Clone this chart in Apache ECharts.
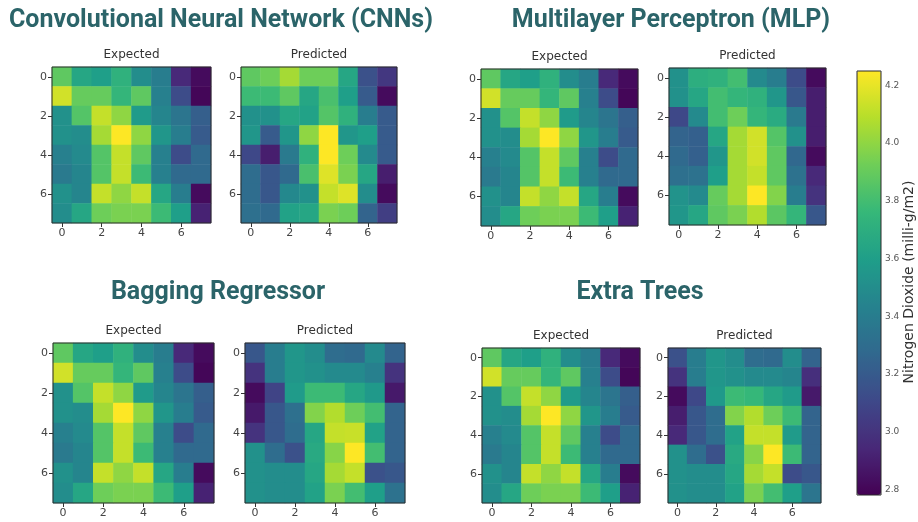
<!DOCTYPE html>
<html>
<head>
<meta charset="utf-8">
<script src="https://cdn.jsdelivr.net/npm/echarts@6/dist/echarts.min.js"></script>
<style>
  html, body { margin: 0; padding: 0; background: #ffffff; }
  #chart { width: 918px; height: 522px; }
</style>
</head>
<body>
<div id="chart"></div>
<script>
// Grid cell indices along each axis
const cells = ['0', '1', '2', '3', '4', '5', '6', '7'];

// Colour bar range and tick values (NO2, milli-g/m2)
const scaleMin = 2.78;
const scaleMax = 4.25;
const colorbarTicks = [2.8, 3.0, 3.2, 3.4, 3.6, 3.8, 4.0, 4.2];

// Model names and panel captions
const modelTitles = ['Convolutional Neural Network (CNNs)', 'Multilayer Perceptron (MLP)', 'Bagging Regressor', 'Extra Trees'];
const panelCaptions = ['Expected', 'Predicted'];
const colorbarLabel = 'Nitrogen Dioxide (milli-g/m2)';

// Observed NO2 grid (row-major, row 0 at top)
const expected = [
  [3.88, 3.65, 3.60, 3.72, 3.50, 3.40, 2.95, 2.82],
  [4.15, 3.90, 3.90, 3.75, 3.88, 3.42, 3.12, 2.80],
  [3.52, 3.85, 4.12, 4.00, 3.58, 3.45, 3.35, 3.22],
  [3.52, 3.50, 4.05, 4.25, 4.00, 3.55, 3.40, 3.20],
  [3.42, 3.48, 3.85, 4.12, 3.88, 3.42, 3.12, 3.28],
  [3.38, 3.45, 3.85, 4.12, 3.78, 3.42, 3.28, 3.28],
  [3.52, 3.45, 4.12, 4.00, 4.12, 3.65, 3.40, 2.82],
  [3.50, 3.65, 3.92, 3.95, 3.95, 3.78, 3.60, 2.92]
];

const predictedCNN = [
  [3.88, 3.92, 4.05, 3.92, 3.92, 3.65, 3.15, 3.02],
  [3.78, 3.78, 3.88, 3.65, 3.82, 3.60, 3.20, 2.82],
  [3.52, 3.52, 3.65, 3.62, 3.85, 3.72, 3.40, 3.20],
  [3.55, 3.20, 3.55, 4.00, 4.25, 3.55, 3.60, 3.20],
  [3.10, 2.90, 3.38, 3.72, 4.25, 3.92, 3.48, 3.20],
  [3.30, 3.18, 3.28, 3.82, 4.18, 3.95, 3.65, 2.90],
  [3.30, 3.18, 3.47, 3.52, 4.12, 4.18, 3.50, 2.82],
  [3.32, 3.28, 3.62, 3.65, 3.95, 3.92, 3.25, 3.05]
];

const predictedMLP = [
  [3.52, 3.70, 3.72, 3.80, 3.48, 3.40, 3.12, 2.82],
  [3.52, 3.65, 3.80, 3.75, 3.72, 3.55, 3.18, 2.90],
  [3.10, 3.48, 3.80, 3.92, 3.75, 3.68, 3.38, 2.90],
  [3.25, 3.23, 3.65, 4.05, 4.15, 3.85, 3.52, 2.90],
  [3.28, 3.23, 3.55, 4.05, 4.15, 3.88, 3.27, 2.82],
  [3.32, 3.33, 3.60, 4.05, 4.12, 3.88, 3.33, 2.95],
  [3.53, 3.48, 3.90, 4.05, 4.25, 3.97, 3.40, 3.00],
  [3.55, 3.65, 3.88, 3.95, 4.08, 3.87, 3.75, 3.18]
];

const predictedBagging = [
  [3.18, 3.40, 3.55, 3.50, 3.30, 3.28, 3.48, 3.25],
  [3.00, 3.40, 3.55, 3.52, 3.48, 3.48, 3.42, 3.00],
  [2.82, 3.08, 3.58, 3.78, 3.78, 3.65, 3.57, 2.88],
  [2.88, 3.18, 3.32, 3.97, 4.08, 3.92, 3.80, 3.25],
  [3.00, 3.18, 3.30, 3.65, 4.12, 4.13, 3.62, 3.25],
  [3.52, 3.30, 3.15, 3.67, 3.98, 4.25, 3.80, 3.25],
  [3.52, 3.50, 3.50, 3.65, 4.05, 4.12, 3.15, 3.18],
  [3.52, 3.50, 3.50, 3.62, 3.95, 3.80, 3.60, 3.33]
];

const predictedExtraTrees = [
  [3.15, 3.40, 3.55, 3.50, 3.30, 3.28, 3.50, 3.25],
  [3.00, 3.40, 3.55, 3.52, 3.48, 3.48, 3.45, 2.98],
  [2.82, 3.10, 3.57, 3.78, 3.76, 3.65, 3.58, 2.88],
  [2.90, 3.18, 3.30, 3.97, 4.08, 3.92, 3.78, 3.25],
  [2.95, 3.18, 3.30, 3.62, 4.12, 4.12, 3.58, 3.25],
  [3.52, 3.30, 3.15, 3.67, 3.98, 4.25, 3.78, 3.25],
  [3.52, 3.50, 3.50, 3.65, 4.05, 4.12, 3.12, 3.18],
  [3.52, 3.50, 3.50, 3.62, 3.95, 3.80, 3.60, 3.35]
];

// Panel layout: plot rectangle, caption and matrix for each heatmap
const panels = [
  { rect: [52, 67, 159, 156],  caption: 0, matrix: expected },
  { rect: [241, 67, 156, 156], caption: 1, matrix: predictedCNN },
  { rect: [481, 69, 157, 157], caption: 0, matrix: expected },
  { rect: [669, 68, 157, 157], caption: 1, matrix: predictedMLP },
  { rect: [53, 343, 161, 160], caption: 0, matrix: expected },
  { rect: [245, 343, 160, 160], caption: 1, matrix: predictedBagging },
  { rect: [482, 348, 158, 155], caption: 0, matrix: expected },
  { rect: [668, 348, 153, 155], caption: 1, matrix: predictedExtraTrees }
];

// Model heading centres
const headingPos = [[221, 21], [671, 21], [218, 293], [640, 293]];

const viridis = ['#440154', '#482878', '#3e4989', '#31688e', '#26828e',
                 '#1f9e89', '#35b779', '#6ece58', '#b5de2b', '#fde725'];

const tickFont = 'DejaVu Sans';
const grids = [], xAxes = [], yAxes = [], series = [], graphics = [];

panels.forEach((p, i) => {
  const [l, t, w, h] = p.rect;
  grids.push({ left: l, top: t, width: w, height: h, show: true, z: 5,
               borderColor: '#2a2a2a', borderWidth: 1, backgroundColor: 'transparent' });
  const axisCommon = {
    gridIndex: i, type: 'category', data: cells,
    axisLine: { show: false },
    axisTick: { show: true, alignWithLabel: true, interval: 1, length: 4,
                lineStyle: { color: '#333', width: 1 } },
    axisLabel: { interval: 1, fontSize: 11, color: '#444', margin: 5, fontFamily: tickFont },
    splitLine: { show: false }
  };
  xAxes.push(Object.assign({}, axisCommon, { position: 'bottom' }));
  yAxes.push(Object.assign({}, axisCommon, { inverse: true, position: 'left' }));
  const data = [];
  p.matrix.forEach((row, r) => row.forEach((v, c) => data.push([c, r, v])));
  series.push({
    type: 'heatmap', xAxisIndex: i, yAxisIndex: i, data: data,
    itemStyle: { borderWidth: 0 }, emphasis: { disabled: true }, silent: true
  });
  graphics.push({
    type: 'text', x: l + w / 2, y: t - 12,
    style: { text: panelCaptions[p.caption], fontSize: 12, fill: '#333',
             fontFamily: tickFont, align: 'center', verticalAlign: 'middle' }
  });
});

modelTitles.forEach((txt, i) => {
  graphics.push({
    type: 'text', x: headingPos[i][0], y: headingPos[i][1],
    style: { text: txt, fontSize: 25, fontWeight: 'bold', fill: '#2b6469',
             fontFamily: 'Roboto', align: 'center', verticalAlign: 'middle' }
  });
});

// Colour bar frame and value axis
const cb = [857, 71, 24, 424];
grids.push({ left: cb[0], top: cb[1], width: cb[2], height: cb[3], show: true, z: 5,
             borderColor: '#2a2a2a', borderWidth: 1, backgroundColor: 'transparent' });
xAxes.push({ gridIndex: 8, type: 'value', show: false, min: 0, max: 1 });
yAxes.push({
  gridIndex: 8, type: 'value', position: 'right', min: scaleMin, max: scaleMax,
  axisLine: { show: false }, splitLine: { show: false },
  axisTick: { show: true, customValues: colorbarTicks, length: 3, lineStyle: { color: '#333' } },
  axisLabel: { customValues: colorbarTicks, fontSize: 9, color: '#555', margin: 4,
               fontFamily: tickFont, formatter: v => v.toFixed(1) }
});

graphics.push({
  type: 'text', x: 909, y: 282, rotation: Math.PI / 2,
  style: { text: colorbarLabel, fontSize: 14, fill: '#333', fontFamily: tickFont,
           align: 'center', verticalAlign: 'middle' }
});

const chart = echarts.init(document.getElementById('chart'), null, { renderer: 'canvas' });
chart.setOption({
  backgroundColor: '#ffffff',
  animation: false,
  grid: grids,
  xAxis: xAxes,
  yAxis: yAxes,
  visualMap: {
    type: 'continuous', min: scaleMin, max: scaleMax, calculable: false,
    seriesIndex: [0, 1, 2, 3, 4, 5, 6, 7],
    inRange: { color: viridis },
    orient: 'vertical', left: cb[0], top: cb[1], padding: 0,
    itemWidth: cb[2], itemHeight: cb[3], text: null, showLabel: false, hoverLink: false
  },
  series: series,
  graphic: graphics
});
</script>
</body>
</html>
